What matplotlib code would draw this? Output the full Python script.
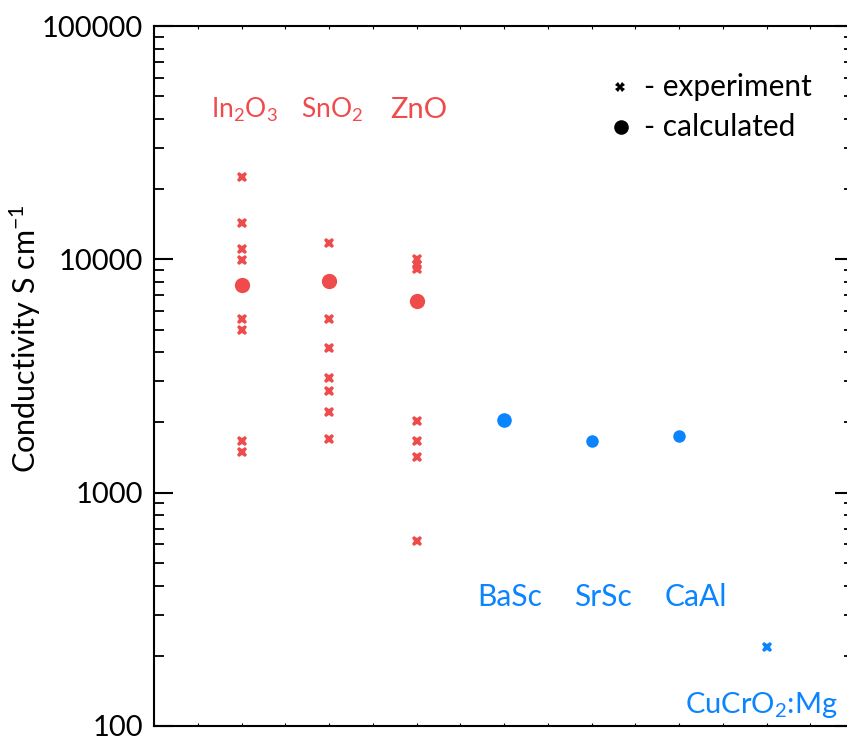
import matplotlib
matplotlib.use("Agg")
import matplotlib.pyplot as plt
from matplotlib.ticker import LogLocator, MultipleLocator, NullFormatter

plt.rcParams['font.family'] = ['Lato', 'DejaVu Sans']
plt.rcParams['mathtext.fontset'] = 'custom'
plt.rcParams['mathtext.rm'] = 'Lato'
plt.rcParams['mathtext.it'] = 'Lato'

red = '#f04b4b'
blue = '#0a84ff'

# measured conductivities (S/cm)
in2o3_exp = [22600, 14300, 11100, 9950, 5550, 4980, 1665, 1490]
sno2_exp = [11700, 5550, 4150, 3090, 2730, 2220, 1700]
zno_exp = [10000, 9500, 9050, 2035, 1665, 1425, 620]
tco_calc = [7750, 8100, 6650]

new_names = ['BaSc', 'SrSc', 'CaAl']
new_calc = [2050, 1665, 1755]
cucro2_exp = 219

fig = plt.figure(figsize=(8.47, 7.37), dpi=100)
ax = fig.add_axes([154 / 847, 11 / 737, 700 / 847, 700 / 737])

# experiments as crosses
for x, vals in zip([1, 2, 3], [in2o3_exp, sno2_exp, zno_exp]):
    ax.plot([x] * len(vals), vals, 'X', color=red, ms=7.5, mew=0, ls='none')
ax.plot([1, 2, 3], tco_calc, 'o', color=red, ms=11, mew=0, ls='none')

ax.plot([4], new_calc[:1], 'o', color=blue, ms=10.5, mew=0)
ax.plot([5, 6], new_calc[1:], 'o', color=blue, ms=9, mew=0, ls='none')
ax.plot([7], [cucro2_exp], 'X', color=blue, ms=7.5, mew=0)

# labels
ax.text(1.03, 43600, r'$\mathrm{In_2O_3}$', color=red, fontsize=19, ha='center', va='center')
ax.text(2.04, 43600, r'$\mathrm{SnO_2}$', color=red, fontsize=19, ha='center', va='center')
ax.text(3.03, 43600, 'ZnO', color=red, fontsize=21, ha='center', va='center')
for x, name in zip([4.07, 5.13, 6.19], new_names):
    ax.text(x, 358, name, color=blue, fontsize=21.5, ha='center', va='center')
ax.text(6.94, 123, r'$\mathrm{CuCrO_2}$:Mg', color=blue, fontsize=21, ha='center', va='center')

# key
ax.plot([0.666], [0.913], 'X', color='black', ms=7, mew=0, transform=ax.transAxes)
ax.plot([0.667], [0.856], 'o', color='black', ms=10.5, mew=0, transform=ax.transAxes)
ax.text(0.700, 0.913, '- experiment', fontsize=21.5, va='center', transform=ax.transAxes)
ax.text(0.700, 0.856, '- calculated', fontsize=21.5, va='center', transform=ax.transAxes)

ax.set_yscale('log')
ax.set_ylim(100, 100000)
ax.set_xlim(0, 8)
ax.yaxis.set_minor_locator(LogLocator(base=10, subs=range(2, 10), numticks=20))
ax.yaxis.set_minor_formatter(NullFormatter())
ax.set_yticks([100, 1000, 10000, 100000])
ax.set_yticklabels(['100', '1000', '10000', '100000'])
ax.xaxis.set_major_locator(MultipleLocator(0.5))
ax.set_xticklabels([])

ax.tick_params(axis='y', which='both', direction='in', right=True, labelsize=21, pad=8)
ax.tick_params(axis='y', which='major', length=14, width=1.5)
ax.tick_params(axis='y', which='minor', length=7.5, width=1.3)
ax.tick_params(axis='x', which='major', direction='in', top=True, length=2.5, width=0.8)
for s in ax.spines.values():
    s.set_linewidth(1.5)

ax.set_ylabel('Conductivity S cm$^{-1}$', fontsize=22, va='center')
ax.yaxis.set_label_coords(-0.184, 0.554)

fig.savefig('out.png', dpi=100)
